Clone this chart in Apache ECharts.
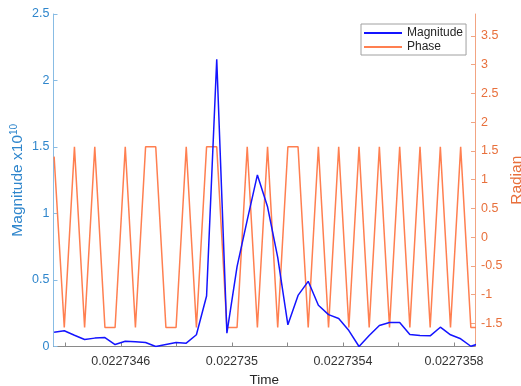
<!DOCTYPE html>
<html>
<head>
<meta charset="utf-8">
<style>
	html, body { margin: 0; padding: 0; background: #fff; }
	#echarts1 { width: 521px; height: 386px; }
</style>
<script src="https://cdn.jsdelivr.net/npm/echarts@6.0.0/dist/echarts.min.js"></script>
</head>
<body>
<div id="echarts1"></div>
<script>
// sample times (s)
var times = [
	0.0227343600, 0.0227343966, 0.0227344332, 0.0227344698, 0.0227345064, 0.0227345430,
	0.0227345796, 0.0227346162, 0.0227346528, 0.0227346894, 0.0227347260, 0.0227347626,
	0.0227347992, 0.0227348358, 0.0227348724, 0.0227349090, 0.0227349456, 0.0227349822,
	0.0227350188, 0.0227350554, 0.0227350920, 0.0227351286, 0.0227351652, 0.0227352018,
	0.0227352384, 0.0227352750, 0.0227353116, 0.0227353482, 0.0227353848, 0.0227354214,
	0.0227354580, 0.0227354946, 0.0227355312, 0.0227355678, 0.0227356044, 0.0227356410,
	0.0227356776, 0.0227357142, 0.0227357508, 0.0227357874, 0.0227358240, 0.0227358606,
	0.0227358972
];
// magnitude, x10^10
var magnitude = [
	0.108, 0.118, 0.085, 0.053, 0.063, 0.067, 0.015, 0.04, 0.035, 0.03,
	0.0, 0.015, 0.03, 0.025, 0.088, 0.38, 2.16, 0.1, 0.6, 0.95,
	1.29, 1.05, 0.67, 0.163, 0.384, 0.49, 0.31, 0.24, 0.21, 0.12,
	0.0, 0.083, 0.158, 0.18, 0.18, 0.09, 0.083, 0.08, 0.145, 0.088,
	0.058, 0.002, 0.026
];
// phase, radian
var phase = [
	1.4, -1.5708, 1.5708, -1.5708, 1.5708, -1.5708, -1.5708, 1.5708, -1.5708, 1.5708,
	1.5708, -1.5708, -1.5708, 1.5708, -1.5708, 1.5708, 1.5708, -1.5708, -1.5708, 1.5708,
	-1.5708, 1.5708, -1.5708, 1.5708, 1.5708, -1.5708, 1.5708, -1.5708, 1.5708, -1.5708,
	1.5708, -1.5708, 1.5708, -1.5708, 1.5708, -1.5708, 1.5708, -1.5708, 1.5708, -1.5708,
	1.5708, -1.5708, -1.5708
];
var timeTicks = [0.0227344, 0.0227346, 0.0227348, 0.022735, 0.0227352, 0.0227354, 0.0227356, 0.0227358];
var timeLabels = [0.0227346, 0.022735, 0.0227354, 0.0227358];
var radianTicks = [-1.5, -1, -0.5, 0, 0.5, 1, 1.5, 2, 2.5, 3, 3.5];

var font = 'Liberation Sans, Arial, sans-serif';
var blueAxis = '#2f86cc';
var orangeAxis = '#e8703c';

var myChart1 = echarts.init(document.getElementById('echarts1'));
var option1 = {
	animation: false,
	backgroundColor: '#fff',
	grid: {
		left: 53.5,
		right: 46,
		top: 14,
		bottom: 39.5,
		containLabel: false,
		outerBoundsMode: 'none'
	},
	legend: {
		orient: 'vertical',
		left: 361,
		top: 24,
		padding: [3, 3, 2, 3],
		itemGap: 2,
		itemWidth: 38,
		itemHeight: 2,
		backgroundColor: '#fff',
		borderColor: '#a0a0a0',
		borderWidth: 1,
		borderRadius: 0,
		textStyle: { color: '#262626', fontSize: 12, fontFamily: font },
		data: [
			{ name: 'Magnitude', icon: 'rect' },
			{ name: 'Phase', icon: 'rect' }
		]
	},
	xAxis: {
		type: 'value',
		min: 0.0227343578,
		max: 0.0227358756,
		name: 'Time',
		nameLocation: 'middle',
		nameGap: 27,
		nameMoveOverlap: false,
		nameTextStyle: { color: '#262626', fontSize: 13.5, fontFamily: font },
		axisLine: { show: true, onZero: false, lineStyle: { color: '#8a8a8a' } },
		axisTick: {
			show: true,
			inside: true,
			length: 4,
			customValues: timeTicks,
			lineStyle: { color: '#8a8a8a' }
		},
		axisLabel: {
			color: '#333',
			fontSize: 12.5,
			fontFamily: font,
			margin: 9,
			customValues: timeLabels,
			formatter: function (v) {
				return String(+v.toFixed(7));
			}
		},
		splitLine: { show: false }
	},
	yAxis: [
		{
			type: 'value',
			position: 'left',
			min: 0,
			max: 2.5,
			interval: 0.5,
			name: 'Magnitude x10{sup|10}',
			nameLocation: 'middle',
			nameGap: 28,
			nameMoveOverlap: false,
			nameTextStyle: {
				color: blueAxis,
				fontSize: 15.5,
				fontFamily: font,
				rich: {
					sup: { color: blueAxis, fontSize: 10, fontFamily: font, verticalAlign: 'top', padding: [0, 0, 6, 0] }
				}
			},
			axisLine: { show: true, lineStyle: { color: '#88bce4' } },
			axisTick: { show: true, inside: true, length: 4, lineStyle: { color: '#88bce4' } },
			axisLabel: { color: blueAxis, fontSize: 12.5, fontFamily: font, margin: 4 },
			splitLine: { show: false }
		},
		{
			type: 'value',
			position: 'right',
			min: -1.9,
			max: 3.88,
			name: 'Radian',
			nameLocation: 'middle',
			nameGap: 34,
			nameRotate: 90,
			nameMoveOverlap: false,
			nameTextStyle: { color: orangeAxis, fontSize: 15.5, fontFamily: font },
			axisLine: { show: true, lineStyle: { color: '#f2a482' } },
			axisTick: {
				show: true,
				inside: true,
				length: 4,
				customValues: radianTicks,
				lineStyle: { color: '#f2a482' }
			},
			axisLabel: {
				color: orangeAxis,
				fontSize: 12.5,
				fontFamily: font,
				margin: 6,
				customValues: radianTicks
			},
			splitLine: { show: false }
		}
	],
	series: [
		{
			name: 'Phase',
			type: 'line',
			yAxisIndex: 1,
			showSymbol: false,
			clip: true,
			data: times.map(function (t, i) { return [t, phase[i]]; }),
			itemStyle: { color: '#ff7f50' },
			lineStyle: { color: '#ff7f50', width: 1.5 }
		},
		{
			name: 'Magnitude',
			type: 'line',
			yAxisIndex: 0,
			showSymbol: false,
			clip: true,
			data: times.map(function (t, i) { return [t, magnitude[i]]; }),
			itemStyle: { color: '#1414ff' },
			lineStyle: { color: '#1414ff', width: 1.5 }
		}
	]
};
myChart1.setOption(option1);
</script>
</body>
</html>
